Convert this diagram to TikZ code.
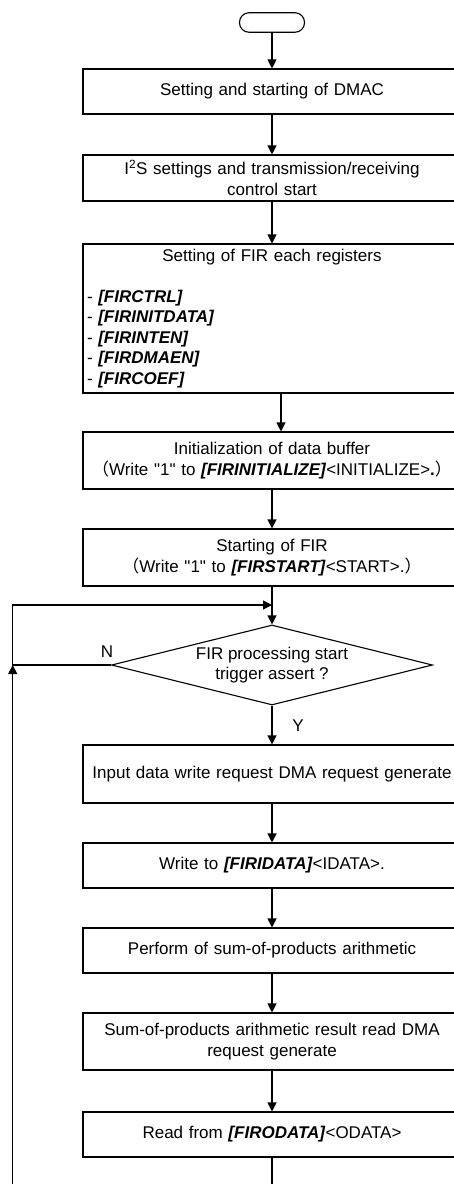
\documentclass[tikz,border=0pt]{standalone}
\usepackage{fontspec}
\setmainfont{Liberation Sans}
\newfontfamily\cjk{Noto Sans CJK SC}
\usetikzlibrary{shapes.geometric,arrows.meta}
\def\reg#1{\textbf{\textit{[#1]}}}
\def\lp{{\cjk （}}
\def\rp{{\cjk ）}}
\def\one{\textquotedbl 1\textquotedbl}

\begin{document}
\begin{tikzpicture}[x=1pt,y=-1pt,
        every node/.style={font=\fontsize{17}{20.5}\selectfont},
        proc/.style={draw, line width=1.1pt, minimum width=378pt, text width=370pt, inner xsep=4pt, align=center},
        flow/.style={line width=1.1pt, -{Triangle[length=9pt,width=9pt]}},
        plain/.style={line width=1.1pt}]
            \useasboundingbox (0,0) rectangle (453,1184);
            \node[draw, line width=1.1pt, rounded corners=9.5pt, minimum width=65pt, minimum height=19.5pt] (start) at (272,22.5) {};
            \node[proc, minimum height=45pt] (dmac) at (272,91.5) {Setting and starting of DMAC};
            \node[proc, minimum height=46pt] (iis) at (272,178) {I\textsuperscript{2}S settings and transmission/receiving\\control start};
            \node[proc, align=left, minimum height=149pt] (regs) at (272,318.5) {\makebox[370pt]{Setting of FIR each registers}\\[20.5pt]
                - \reg{FIRCTRL}\\
                - \reg{FIRINITDATA}\\
                - \reg{FIRINTEN}\\
                - \reg{FIRDMAEN}\\
                - \reg{FIRCOEF}};
            \node[proc, minimum height=57pt] (init) at (272,460.5) {Initialization of data buffer\\\lp Write \one{} to \reg{FIRINITIALIZE}<INITIALIZE>\textbf{.}\rp};
            \node[proc, minimum height=57pt] (firgo) at (272,557.5) {Starting of FIR\\\lp Write \one{} to \reg{FIRSTART}<START>.\rp};
            \node[draw, line width=1.1pt, diamond, aspect=4, inner sep=0pt, minimum width=321pt, minimum height=80pt, align=center] (trig) at (272,665) {FIR processing start\\trigger assert ?};
            \node[proc, minimum height=58pt] (dmareq) at (272,774) {Input data write request DMA request generate};
            \node[proc, minimum height=45pt] (wr) at (272,865.5) {Write to \reg{FIRIDATA}<IDATA>.};
            \node[proc, minimum height=45pt] (mac) at (272,950.5) {Perform of sum-of-products arithmetic};
            \node[proc, minimum height=57pt] (rdreq) at (272,1041.5) {Sum-of-products arithmetic result read DMA\\request generate};
            \node[proc, minimum height=45pt] (rd) at (272,1134.5) {Read from \reg{FIRODATA}<ODATA>};
            \node (no) at (107,652) {N};
            \node (yes) at (298,726) {Y};

            \coordinate (back) at (12.7,665);
            \coordinate (join) at (272,605);
            \coordinate (bot) at (272,1184);
            \coordinate (up) at (12.7,1184);

            \draw[flow] (start) -- (dmac);
            \draw[flow] (dmac) -- (iis);
            \draw[flow] (iis) -- (regs);
            \draw[flow] ([xshift=9pt]regs.south) -- ([xshift=9pt]init.north);
            \draw[flow] (init) -- (firgo);
            \draw[flow] (firgo) -- (trig);
            \draw[flow] (trig) -- (dmareq);
            \draw[flow] (dmareq) -- (wr);
            \draw[flow] (wr) -- (mac);
            \draw[flow] (mac) -- (rdreq);
            \draw[flow] (rdreq) -- (rd);
            \draw[plain] (rd) -- (bot);
            \draw[flow] (trig.west) -- (back) |- (join);
            \draw[flow] (up) -- (back);
\end{tikzpicture}
\end{document}
